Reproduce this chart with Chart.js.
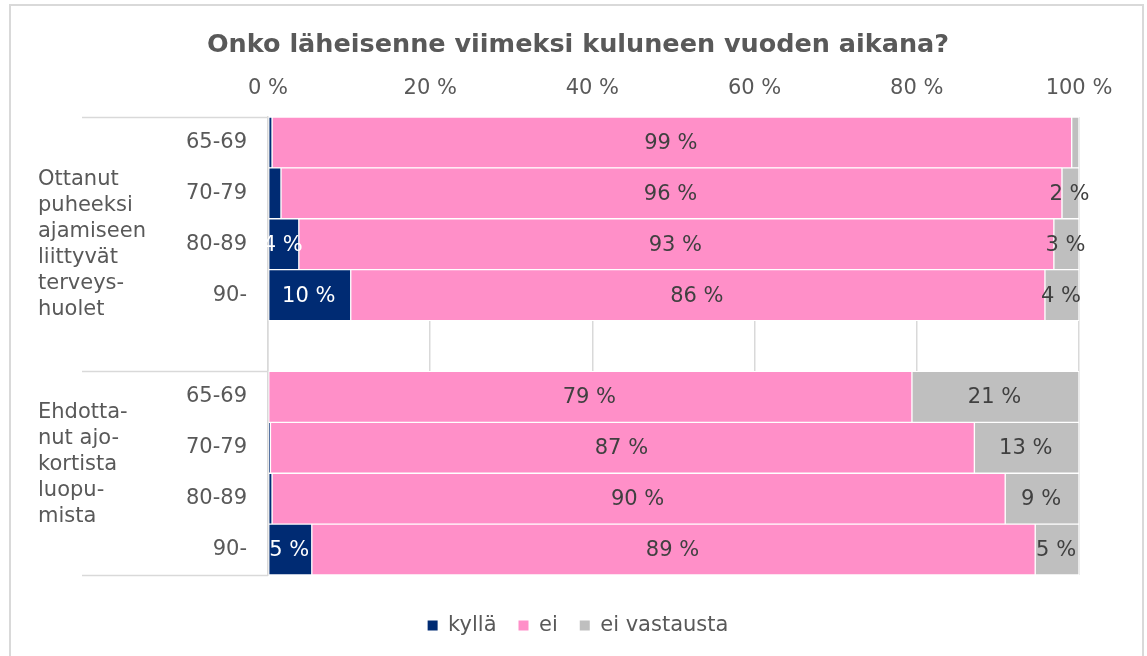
<!DOCTYPE html>
<html>
<head>
<meta charset="utf-8">
<script src="https://cdn.jsdelivr.net/npm/chart.js@4/dist/chart.umd.min.js"></script>
<style>
  html, body { margin: 0; padding: 0; background: #fff; }
  body { width: 1147px; height: 656px; position: relative; overflow: hidden; }
  #frame { position: absolute; left: 9px; top: 4px; width: 1131px; height: 700px; border: 2px solid #d9d9d9; }
  #wrap { position: absolute; left: 0; top: 0; width: 1147px; height: 656px; }
</style>
</head>
<body>
<div id="frame"></div>
<div id="wrap"><canvas id="c" width="1147" height="656"></canvas></div>
<script>
// ---- data ----
const titleText = 'Onko läheisenne viimeksi kuluneen vuoden aikana?';
const categories = ['65-69', '70-79', '80-89', '90-', '', '65-69', '70-79', '80-89', '90-'];
const seriesNames = ['kyllä', 'ei', 'ei vastausta'];
const kylla = [0.5, 1.6, 3.8, 10.2, null, 0.0, 0.3, 0.5, 5.4];
const ei = [98.6, 96.3, 93.1, 85.6, null, 79.4, 86.8, 90.4, 89.2];
const eiVastausta = [0.9, 2.1, 3.1, 4.2, null, 20.6, 12.9, 9.1, 5.4];
const xTicks = [0, 20, 40, 60, 80, 100];
const groupLabels = [
  ['Ottanut', 'puheeksi', 'ajamiseen', 'liittyvät', 'terveys-', 'huolet'],
  ['Ehdotta-', 'nut ajo-', 'kortista', 'luopu-', 'mista']
];
const groupSpans = [[0, 4], [5, 8]];
const groupShift = [0, -9];
// ---- styles ----
const colors = ['#002B73', '#FF8FC8', '#BFBFBF'];
const labelColors = ['#ffffff', '#404040', '#404040'];
const FONT = "'DejaVu Sans', Verdana, sans-serif";
const textGray = '#595959';
const lineGray = '#d9d9d9';

const barLabelPlugin = {
  id: 'barLabels',
  afterDatasetsDraw(chart) {
    const ctx = chart.ctx;
    ctx.save();
    ctx.font = '21px ' + FONT;
    ctx.textAlign = 'center';
    ctx.textBaseline = 'middle';
    chart.data.datasets.forEach((ds, i) => {
      const meta = chart.getDatasetMeta(i);
      meta.data.forEach((el, j) => {
        const v = ds.data[j];
        if (v == null || v < 2) return;
        const p = el.getProps(['x', 'y', 'base'], true);
        ctx.fillStyle = labelColors[i];
        ctx.fillText(Math.round(v) + ' %', (p.x + p.base) / 2 - 1, p.y + 1);
      });
    });
    ctx.restore();
  }
};

const groupPlugin = {
  id: 'groups',
  afterDraw(chart) {
    const ctx = chart.ctx;
    const y = chart.scales.y;
    const area = chart.chartArea;
    const slot = Math.abs(y.getPixelForValue(1) - y.getPixelForValue(0));
    ctx.save();
    ctx.strokeStyle = lineGray;
    ctx.lineWidth = 1.5;
    const lineLeft = 82;
    const bounds = [];
    groupSpans.forEach(([a, b]) => {
      bounds.push(y.getPixelForValue(a) - slot / 2);
      bounds.push(y.getPixelForValue(b) + slot / 2);
    });
    const uniq = [...new Set(bounds.map(v => Math.round(v)))];
    uniq.forEach(by => {
      ctx.beginPath();
      ctx.moveTo(lineLeft, by + 0.5);
      ctx.lineTo(area.left, by + 0.5);
      ctx.stroke();
    });
    ctx.fillStyle = textGray;
    ctx.font = '21px ' + FONT;
    ctx.textAlign = 'left';
    ctx.textBaseline = 'middle';
    const lh = 26;
    groupSpans.forEach(([a, b], gi) => {
      const top = y.getPixelForValue(a) - slot / 2;
      const bot = y.getPixelForValue(b) + slot / 2;
      const mid = (top + bot) / 2 + groupShift[gi];
      const lines = groupLabels[gi];
      const start = mid - (lines.length - 1) * lh / 2;
      lines.forEach((t, k) => ctx.fillText(t, 38, start + k * lh));
    });
    ctx.restore();
  }
};

const datasets = [kylla, ei, eiVastausta].map((d, i) => ({
  label: seriesNames[i],
  data: d,
  backgroundColor: colors[i],
  borderColor: '#ffffff',
  borderWidth: 1,
  borderSkipped: false,
  categoryPercentage: 1,
  barPercentage: 1
}));

new Chart(document.getElementById('c'), {
  type: 'bar',
  data: { labels: categories, datasets },
  options: {
    indexAxis: 'y',
    responsive: false,
    animation: false,
    layout: { padding: { left: 77, right: 68, top: 0, bottom: 10 } },
    scales: {
      x: {
        position: 'top',
        stacked: true,
        min: 0, max: 100,
        afterBuildTicks(scale) { scale.ticks = xTicks.map(v => ({ value: v })); },
        afterFit(scale) { scale.height = 46.7; },
        ticks: { callback: v => v + ' %', color: textGray, font: { family: FONT, size: 21 }, padding: 16, maxRotation: 0 },
        grid: { color: lineGray, lineWidth: 1.5, drawTicks: false },
        border: { display: false }
      },
      y: {
        stacked: true,
        afterFit(scale) { scale.width = 191; },
        ticks: { color: textGray, font: { family: FONT, size: 21 }, padding: 21, autoSkip: false },
        grid: { display: false, drawTicks: false },
        border: { display: true, color: lineGray, width: 1.5 }
      }
    },
    plugins: {
      title: {
        display: true,
        text: titleText,
        color: textGray,
        font: { family: FONT, size: 25.5, weight: 'bold' },
        padding: { top: 29.7, bottom: 10 }
      },
      legend: {
        position: 'bottom',
        title: { display: true, text: ' ', font: { size: 1, lineHeight: 1 }, padding: { top: 17, bottom: 0 } },
        labels: {
          color: textGray,
          font: { family: FONT, size: 21 },
          boxWidth: 10, boxHeight: 10,
          padding: 22,
          generateLabels(chart) {
            return chart.data.datasets.map((ds, i) => ({
              text: ds.label, fillStyle: colors[i], strokeStyle: colors[i], lineWidth: 0,
              fontColor: textGray, datasetIndex: i, hidden: false
            }));
          }
        }
      },
      tooltip: { enabled: false }
    }
  },
  plugins: [barLabelPlugin, groupPlugin]
});
</script>
</body>
</html>
